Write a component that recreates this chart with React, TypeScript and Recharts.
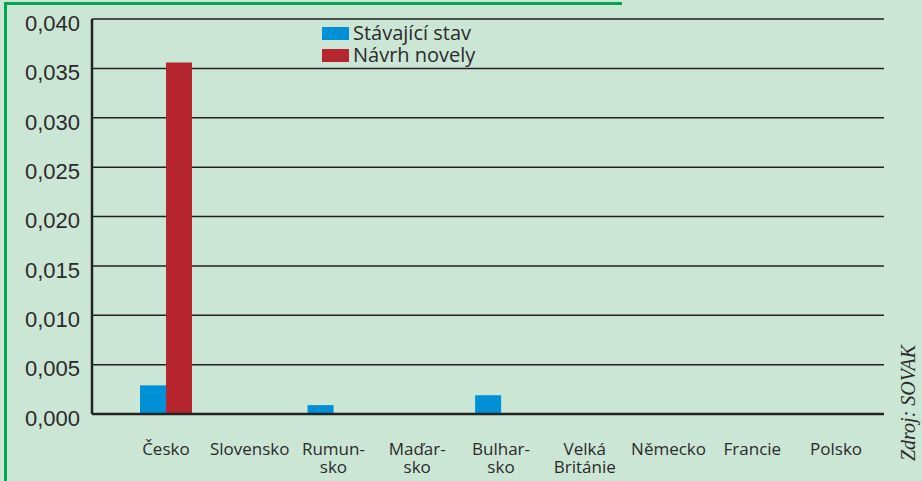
import { BarChart, Bar, XAxis, YAxis, CartesianGrid } from 'recharts';

const countries = [
    'Česko',
    'Slovensko',
    'Rumun-|sko',
    'Maďar-|sko',
    'Bulhar-|sko',
    'Velká|Británie',
    'Německo',
    'Francie',
    'Polsko',
];
const currentState = [0.0029, 0.0001, 0.0009, 0.0001, 0.0019, 0.0001, 0.0001, 0.0001, 0.0001];
const proposal = [0.0356, 0, 0, 0, 0, 0, 0, 0, 0];
const yTicks = [0, 0.005, 0.01, 0.015, 0.02, 0.025, 0.03, 0.035, 0.04];
const seriesNames = ['Stávající stav', 'Návrh novely'];

const BLUE = '#0090d7';
const RED = '#b5262e';
const BG = '#cbe6d5';
const GREEN = '#00a650';
const LABEL_FONT = '"Open Sans", "DejaVu Sans", sans-serif';

const data = countries.map((c, i) => ({
    country: c,
    current: currentState[i],
    proposal: proposal[i],
}));

const CountryTick = (props: any) => {
    const { x, y, payload } = props;
    const lines = String(payload.value).split('|');
    return (
        <text x={x} y={y} textAnchor="middle" fill="#2b2b2b" fontSize={17} fontFamily={LABEL_FONT}>
            {lines.map((l, i) => (
                <tspan key={i} x={x} dy={i === 0 ? 33 : 18}>{l}</tspan>
            ))}
        </text>
    );
};

export default function App() {
    return (
        <div style={{ position: 'absolute', left: 0, top: 0, width: 922, height: 481, background: BG, overflow: 'hidden' }}>
            {/* green frame */}
            <div style={{ position: 'absolute', left: 4, top: 2, width: 3, height: 479, background: GREEN }} />
            <div style={{ position: 'absolute', left: 4, top: 2, width: 618, height: 3, background: GREEN }} />
            <BarChart
                width={922}
                height={481}
                data={data}
                margin={{ top: 19, right: 38, left: 0, bottom: 0 }}
                barSize={26}
                barGap={0}
            >
                <CartesianGrid vertical={false} stroke="#222" strokeWidth={1.5} />
                <XAxis
                    dataKey="country"
                    height={67}
                    padding={{ left: 32, right: 6 }}
                    axisLine={{ stroke: '#222', strokeWidth: 2.5 }}
                    tickLine={false}
                    interval={0}
                    tick={<CountryTick />}
                />
                <YAxis
                    width={92}
                    domain={[0, 0.04]}
                    ticks={yTicks}
                    tickFormatter={(v: number) => v.toFixed(3).replace('.', ',')}
                    axisLine={{ stroke: '#222', strokeWidth: 2.5 }}
                    tickLine={false}
                    tickSize={0}
                    tickMargin={12}
                    dy={4}
                    tick={{ fill: '#2b2b2b', fontSize: 22, fontFamily: 'Liberation Sans, Arial, sans-serif' }}
                />
                <Bar dataKey="current" name={seriesNames[0]} fill={BLUE} isAnimationActive={false} />
                <Bar dataKey="proposal" name={seriesNames[1]} fill={RED} isAnimationActive={false} />
            </BarChart>
            {/* legend */}
            <div style={{ position: 'absolute', left: 322, top: 22, fontFamily: LABEL_FONT, fontSize: 20, color: '#2b2b2b', lineHeight: '22px' }}>
                {[BLUE, RED].map((color, i) => (
                    <div key={i} style={{ display: 'flex', alignItems: 'center' }}>
                        <span style={{ display: 'inline-block', width: 27, height: 13, background: color, marginRight: 4 }} />
                        {seriesNames[i]}
                    </div>
                ))}
            </div>
            <div
                style={{
                    position: 'absolute',
                    left: 908,
                    top: 403,
                    transform: 'translate(-50%, -50%) rotate(-90deg)',
                    fontFamily: '"Liberation Serif", "DejaVu Serif", serif',
                    fontStyle: 'italic',
                    fontSize: 20,
                    color: '#2b2b2b',
                    whiteSpace: 'nowrap',
                }}
            >
                Zdroj: SOVAK
            </div>
        </div>
    );
}
